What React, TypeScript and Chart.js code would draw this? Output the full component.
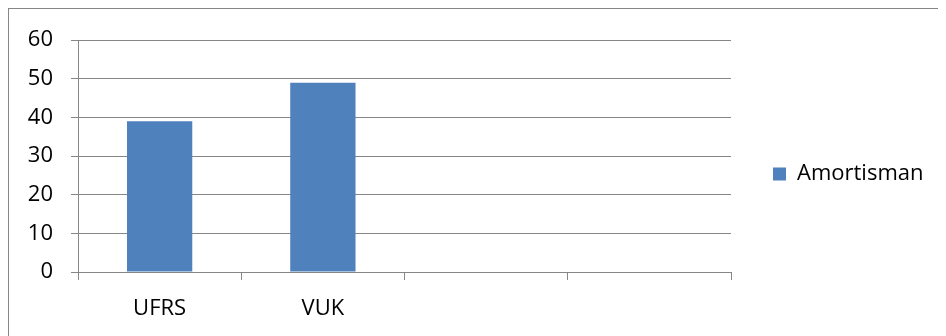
import React, { useEffect, useRef } from "react";
import { Chart, registerables } from "chart.js";

Chart.register(...registerables);

const categories = ["UFRS", "VUK", "", ""];
const amortisman = [39, 49, null, null];
const seriesName = "Amortisman";
const yMin = 0;
const yMax = 60;
const yStep = 10;

const GRID = "#868686";
const BAR = "#4F81BD";
const FONT = "'Open Sans', 'Liberation Sans', sans-serif";
const FS = 22;

export default function App() {
  const ref = useRef<HTMLCanvasElement | null>(null);

  useEffect(() => {
    const canvas = ref.current;
    if (!canvas) return;
    const chart = new Chart(canvas, {
      type: "bar",
      data: {
        labels: categories,
        datasets: [
          {
            label: seriesName,
            data: amortisman,
            backgroundColor: BAR,
            borderWidth: 0,
            categoryPercentage: 1,
            barPercentage: 0.4,
          },
        ],
      },
      options: {
        responsive: false,
        animation: false,
        layout: { padding: { top: 21, right: 15, bottom: 18, left: 0 } },
        font: { family: FONT, size: FS },
        plugins: {
          tooltip: { enabled: false },
          title: {
            display: true,
            text: "",
            padding: 0,
            font: { size: 8, lineHeight: 1 },
          },
          legend: {
            position: "right",
            maxWidth: 200,
            labels: {
              boxWidth: 13,
              boxHeight: 13,
              padding: 42,
              color: "#000",
              font: { family: FONT, size: FS },
            },
          },
        },
        scales: {
          x: {
            offset: true,
            grid: {
              offset: true,
              drawOnChartArea: false,
              drawTicks: true,
              tickLength: 8,
              color: GRID,
              lineWidth: 1,
            },
            border: { display: true, color: GRID, width: 1 },
            ticks: {
              color: "#000",
              padding: 16,
              font: { family: FONT, size: FS },
              maxRotation: 0,
              autoSkip: false,
            },
            afterFit: (s: any) => {
              s.height = 46;
            },
          },
          y: {
            min: yMin,
            max: yMax,
            grid: {
              color: GRID,
              lineWidth: 1,
              tickLength: 7,
              drawTicks: true,
            },
            border: { display: true, color: GRID, width: 1 },
            ticks: {
              stepSize: yStep,
              color: "#000",
              padding: 18,
              font: { family: FONT, size: FS },
            },
            afterFit: (s: any) => {
              s.width = 69;
            },
          },
        },
      },
    });
    return () => chart.destroy();
  }, []);

  return (
    <>
      <style>{`html,body{overflow:hidden}`}</style>
      <div
        style={{
          width: 938,
          height: 328,
          borderLeft: `1px solid ${GRID}`,
          borderTop: `1px solid ${GRID}`,
          boxSizing: "border-box",
          background: "#fff",
        }}
      >
        <canvas ref={ref} width={937} height={327} style={{ display: "block" }} />
      </div>
    </>
  );
}
